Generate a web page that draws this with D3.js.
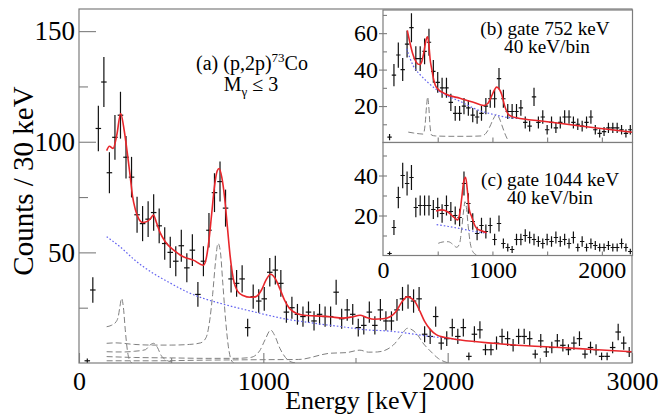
<!DOCTYPE html>
<html><head><meta charset="utf-8">
<script src="https://cdn.jsdelivr.net/npm/d3@7"></script>
<style>
body{margin:0;background:#fff}
svg{display:block}
</style>
</head><body>
<svg id="chart" width="659" height="420"></svg>
<script>
// ---------------- DATA ----------------
// Main panel (a): 30 keV bins, bin centres [keV]
const mainEnergy = [45,75,105,135,165,195,225,255,285,315,345,375,405,435,465,495,525,555,585,615,
  645,675,705,735,765,795,825,855,885,915,945,975,1005,1035,1065,1095,1125,1155,1185,1215,
  1245,1275,1305,1335,1365,1395,1425,1455,1485,1515,1545,1575,1605,1635,1665,1695,1725,1755,1785,1815,
  1845,1875,1905,1935,1965,1995,2025,2055,2085,2115,2145,2175,2205,2235,2265,2295,2325,2355,2385,2415,
  2445,2475,2505,2535,2565,2595,2625,2655,2685,2715,2745,2775,2805,2835,2865,2895,2925,2955,2985];
const mainCounts = [1,33,106,127,86,102,112,93,84,67,
  63,65,68,62,54,50,46,53,43,51,
  31,46,60,77,82,70,38,36,38,16,
  30,28,29,41,42,36,23,25,22,21,
  23,19,22,21,21,32,20,24,22,16,
  17,23,17,24,19,19,24,29,30,28,
  29,13,12,21,9,11,16,12,16,3,
  13,15,6,6,9,12,11,8,12,12,
  11,4,10,5,7,10,8,6,9,11,
  4,7,6,3,3,7,14,9,5];
const mainFit = [[150,96],[165,98],[185,97],[205,103],[226,112.8],[245,105.2],[262,95],[277,84.9],[290,75.7],[305,69.6],
  [325,65],[345,63.5],[370,64],[390,65.5],[404,66.9],[420,63.5],[440,58.9],[467,54.9],[512,51.1],[566,48],[620,46.5],
  [675,44.2],[690,47.2],[705,55.4],[720,67.6],[735,79.8],[750,86.9],[760,87.9],[775,83.8],[790,74.7],[805,61.5],
  [820,48.3],[837,38.1],[860,32.5],[890,30.5],[930,29.7],[960,30],[990,33],[1015,37.6],[1040,40.1],[1065,38.1],
  [1090,33.5],[1115,28.4],[1140,24.9],[1180,22.4],[1220,21.6],[1280,21.3],[1360,20.9],[1430,20.3],[1480,20.8],
  [1525,21.6],[1560,20.6],[1600,19.8],[1650,20],[1690,21],[1720,23.3],[1750,27.4],[1780,29.9],[1800,29.4],
  [1825,27.4],[1850,23.3],[1875,18.8],[1905,15.2],[1940,12.7],[1980,11.6],[2070,10.4],[2250,8.9],[2430,7.8],
  [2610,7],[2790,6.1],[3000,5.1]];
const mainBackground = [[150,57.1],[223,52.5],[313,45.8],[403,40.5],[494,36.2],[584,32.2],[675,29.2],[765,27],
  [856,25],[946,23.2],[1036,21.4],[1127,19.8],[1217,18.7],[1307,17.6],[1398,16.7],[1488,15.7],[1570,14.9],
  [1650,14.6],[1742,13.9],[1830,12.9],[1905,12],[2000,11.2],[2070,10.4]];
const mainResp225 = [[150,16.4],[175,17],[200,18.5],[213,21],[222,25.5],[231,29.2],[241,25],[251,15],[262,6],[275,1],[288,0]];
const mainResp752 = [[150,8.9],[200,9.1],[300,8.4],[400,8.1],[500,8.1],[600,8.4],[660,9.1],[690,11.6],[710,19.8],
  [725,31],[740,45.2],[754,54.1],[767,50.3],[780,36.2],[795,19.8],[810,7.6],[825,1.5],[840,0]];
const mainResp405 = [[150,5.1],[200,5],[250,5],[300,5.3],[360,6],[385,8.1],[405,8.9],[425,7.1],[445,3.5],[470,1.5],[500,0.5]];
const mainResp1044 = [[150,2.9],[300,2.5],[500,2.3],[700,2.1],[850,2.1],[930,2.5],[980,5.5],[1010,10.6],[1040,14.9],
  [1060,12.7],[1090,6.6],[1120,2.5],[1150,0.5],[1180,0]];
const mainResp1780 = [[150,1],[400,1],[700,1.3],[1000,1.5],[1190,1.6],[1362,4.4],[1450,4.7],[1524,5.8],[1570,4.9],
  [1620,5],[1705,8.1],[1745,12.1],[1782,15.7],[1832,13.2],[1870,8.6],[1905,5.5],[1950,2],[2005,0]];
const mainYMajor = [50,100,150];
const mainYMinor = [25,75,125];
const mainXMajor = [0,1000,2000,3000];
const mainXMinor = [500,1500,2500];

// Insets (b) and (c): 40 keV bins
const insetEnergy = [60,100,140,180,220,260,300,340,380,420,460,500,540,580,620,660,700,740,780,820,
  860,900,940,980,1020,1060,1100,1140,1180,1220,1260,1300,1340,1380,1420,1460,1500,1540,1580,1620,
  1660,1700,1740,1780,1820,1860,1900,1940,1980,2020,2060,2100,2140,2180,2220,2260];
const gate752Counts = [3,37,48,40,54,63,46,46,50,55,39,33,30,30,22,16,16,20,19,15,
  14,16,20,24,24,35,24,17,17,17,19,11,9,25,11,14,7,11,8,11,
  14,14,11,10,9,11,14,7,5,6,8,8,8,7,5,7];
const gate752Fit = [[222,61.5],[245,55],[270,49],[300,44.5],[320,43],[335,42.8],[355,44.5],[375,50],[392,56],[408,58],
  [420,53],[432,45],[445,40.5],[465,34],[490,30],[582,26.3],[703,24.3],[825,22.1],[922,20.3],[960,21.5],[992,25.4],
  [1020,29],[1038,30.4],[1060,29.5],[1084,26.5],[1110,20.5],[1144,15.5],[1180,14.2],[1220,13.6],[1463,11.7],
  [1768,9.3],[2073,7.1],[2280,5.6]];
const gate752Background = [[216,51.4],[277,42],[338,37.3],[399,33.6],[490,29],[580,25.8],[700,22.7],[856,18.1],
  [1008,15.4],[1160,13.6],[1240,13.3]];
const gate752Resp = [[231,5.7],[280,5.2],[330,4.8],[368,4.6],[385,10],[398,20],[408,25],[418,20],[430,9],[445,4],
  [480,3.6],[600,3.4],[750,3.4],[898,3.6],[940,5],[975,8.5],[1005,12.5],[1038,15.4],[1065,13],[1095,8],[1120,4],[1144,1]];
const gate1044Counts = [1,14,29,40,36,39,24,25,25,25,23,24,21,25,22,20,19,36,26,17,
  11,15,12,15,8,16,6,4,3,8,8,10,9,8,7,6,8,7,9,7,
  8,6,9,4,7,4,6,5,4,4,5,4,4,6,4,2];
const gate1044Fit = [[485,22.2],[540,22.8],[600,21.5],[650,19],[680,17.8],[700,20.5],[720,29],[738,37],[755,39.1],
  [772,32],[788,23],[810,19.5],[835,15.5],[855,13.6],[900,12.4],[947,11.4]];
const gate1044Background = [[490,15.4],[600,14.5],[700,13.5],[800,12.4],[947,11.1]];
const gate1044Resp = [[505,6.1],[550,6.8],[596,6.9],[640,5.5],[673,4.1],[700,6],[720,14],[738,23],[749,26.9],
  [762,24],[778,15],[795,7],[820,2],[855,0.3]];
const insetYMajorB = [20,40,60];
const insetYMinorB = [10,30,50,70];
const insetYMajorC = [20,40];
const insetYMinorC = [10,30,50];
const insetXTicks = [500,1000,1500,2000];
const insetXLabels = [0,1000,2000];

// ---------------- DRAWING ----------------
const FONT = '"Liberation Serif"';
const svg = d3.select('#chart');
const FRAME = '#7d7d7d';
const RED = '#e8262b', BLUE = '#6262f0', GREY = '#808080';
let clipId = 0;

function panel(cfg) {
  const x = d3.scaleLinear().domain(cfg.xDomain).range(cfg.xRange);
  const y = d3.scaleLinear().domain(cfg.yDomain).range(cfg.yRange);
  const g = svg.append('g');
  const [X0, X1] = cfg.xRange, [Y1, Y0] = cfg.yRange;
  if (cfg.fill) g.append('rect').attr('x', X0).attr('y', Y0).attr('width', X1 - X0).attr('height', Y1 - Y0).attr('fill', '#fff');
  const id = 'clip' + (clipId++);
  g.append('clipPath').attr('id', id).append('rect').attr('x', X0).attr('y', Y0).attr('width', X1 - X0).attr('height', Y1 - Y0);
  const plot = g.append('g').attr('clip-path', `url(#${id})`);

  // data points with sqrt(N) error bars
  const pts = plot.append('g').attr('stroke', '#111').attr('stroke-width', 1.2);
  cfg.energy.forEach((e, i) => {
    const v = cfg.counts[i], err = Math.sqrt(v);
    pts.append('line').attr('x1', x(e)).attr('x2', x(e)).attr('y1', y(v - err)).attr('y2', y(v + err));
    pts.append('line').attr('x1', x(e - cfg.binW / 2)).attr('x2', x(e + cfg.binW / 2)).attr('y1', y(v)).attr('y2', y(v));
  });

  const line = d3.line().x(d => x(d[0])).y(d => y(d[1])).curve(d3.curveMonotoneX);
  cfg.resp.forEach(r => plot.append('path').attr('d', line(r)).attr('fill', 'none')
    .attr('stroke', GREY).attr('stroke-width', 1).attr('stroke-dasharray', '6,3'));
  plot.append('path').attr('d', line(cfg.bg)).attr('fill', 'none')
    .attr('stroke', BLUE).attr('stroke-width', 1.2).attr('stroke-dasharray', '1.6,2');
  plot.append('path').attr('d', line(cfg.fit)).attr('fill', 'none')
    .attr('stroke', RED).attr('stroke-width', 1.6);

  // axes
  const styleAxis = (a, fs) => {
    a.select('.domain').remove();
    a.selectAll('line').attr('stroke', FRAME).attr('stroke-width', 1.1);
    a.attr('font-size', fs);
    a.selectAll('text').attr('fill', '#000').style('font-family', FONT).style('font-size', fs + 'px');
  };
  cfg.yAxes.forEach(ax => {
    const a = g.append('g').attr('transform', `translate(${X0},0)`)
      .call(d3.axisLeft(y).tickValues(ax.values).tickSizeInner(ax.len).tickSizeOuter(0)
        .tickPadding(ax.pad || 0).tickFormat(ax.labels ? d3.format('d') : ''));
    styleAxis(a, ax.fs || 10);
    if (!ax.labels) a.selectAll('text').remove();
  });
  cfg.xAxes.forEach(ax => {
    const a = g.append('g').attr('transform', `translate(0,${Y1})`)
      .call(d3.axisBottom(x).tickValues(ax.values).tickSizeInner(ax.len).tickSizeOuter(0)
        .tickPadding(ax.pad || 0).tickFormat(ax.labels ? d3.format('d') : ''));
    styleAxis(a, ax.fs || 10);
    if (ax.noLines) a.selectAll('line').remove();
    if (!ax.labels) a.selectAll('text').remove();
  });
  g.append('rect').attr('x', X0).attr('y', Y0).attr('width', X1 - X0).attr('height', Y1 - Y0)
    .attr('fill', 'none').attr('stroke', FRAME).attr('stroke-width', 1.2);
  return g;
}

// main panel
panel({
  xDomain: [0, 3000], xRange: [79, 632], yDomain: [0, 160], yRange: [363, 9],
  energy: mainEnergy, counts: mainCounts, binW: 30,
  fit: mainFit, bg: mainBackground,
  resp: [mainResp225, mainResp752, mainResp405, mainResp1044, mainResp1780],
  yAxes: [{values: mainYMajor, len: -17, pad: 4, labels: true, fs: 27},
          {values: mainYMinor, len: -9}],
  xAxes: [{values: mainXMajor, len: -10, pad: 9, labels: true, fs: 26},
          {values: mainXMinor, len: -5}]
});

// inset (b)
panel({
  xDomain: [0, 2280], xRange: [383, 632.5], yDomain: [0, 72.7], yRange: [142.5, 10], fill: true,
  energy: insetEnergy, counts: gate752Counts, binW: 40,
  fit: gate752Fit, bg: gate752Background, resp: [gate752Resp],
  yAxes: [{values: insetYMajorB, len: 4, pad: 1, labels: true, fs: 24},
          {values: insetYMajorB, len: -4},
          {values: insetYMinorB, len: -4}],
  xAxes: [{values: insetXTicks, len: -5}]
});

// inset (c)
panel({
  xDomain: [0, 2280], xRange: [383, 632.5], yDomain: [0, 56.5], yRange: [255.5, 142.5], fill: true,
  energy: insetEnergy, counts: gate1044Counts, binW: 40,
  fit: gate1044Fit, bg: gate1044Background, resp: [gate1044Resp],
  yAxes: [{values: insetYMajorC, len: 4, pad: 1, labels: true, fs: 24},
          {values: insetYMajorC, len: -4},
          {values: insetYMinorC, len: -4}],
  xAxes: [{values: insetXTicks, len: -4},
          {values: insetXLabels, len: 0, pad: 5, labels: true, fs: 24, noLines: true}]
});

// titles
function txt(x, y, size, anchor) {
  return svg.append('text').attr('x', x).attr('y', y).attr('text-anchor', anchor || 'middle')
    .style('font-family', FONT).style('font-size', size + 'px').attr('fill', '#000');
}
svg.append('text').attr('transform', 'translate(33,181) rotate(-90)').attr('text-anchor', 'middle')
  .style('font-family', FONT).style('font-size', '29px').text('Counts / 30 keV');
txt(356, 409, 26).text('Energy [keV]');

// panel (a) label: two lines in one text element
const la = txt(252, 70, 20);
la.append('tspan').text('(a) (p,2p)');
la.append('tspan').style('font-size', '13px').attr('dy', -8).text('73');
la.append('tspan').attr('dy', 8).text('Co');
la.append('tspan').attr('x', 251).attr('dy', 21).text('M');
la.append('tspan').style('font-size', '13px').attr('dy', 5).text('γ');
la.append('tspan').attr('dy', -5).text(' ≤ 3');

// inset labels: two lines in one text element each
const lb = txt(545, 35, 19.2);
lb.append('tspan').text('(b) gate 752 keV');
lb.append('tspan').attr('x', 547).attr('dy', 18).text('40 keV/bin');
const lc = txt(550, 186, 19.2);
lc.append('tspan').text('(c) gate 1044 keV');
lc.append('tspan').attr('x', 550).attr('dy', 17.5).text('40 keV/bin');
</script>
</body></html>
